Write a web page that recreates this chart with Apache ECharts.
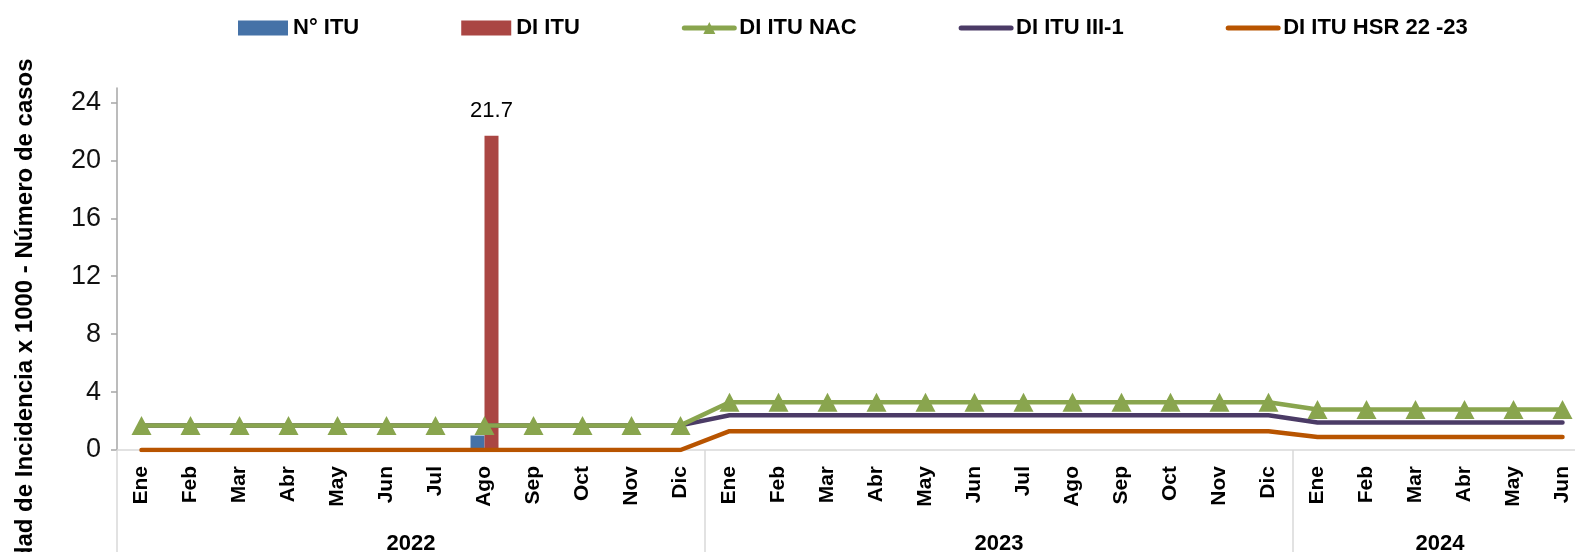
<!DOCTYPE html>
<html>
<head>
<meta charset="utf-8">
<script src="https://cdn.jsdelivr.net/npm/echarts@6/dist/echarts.min.js"></script>
<style>
  html, body { margin: 0; padding: 0; background: #fff; }
  #chart { width: 1575px; height: 552px; }
</style>
</head>
<body>
<div id="chart"></div>
<script>
// meses (categorias)
const months = [
  'Ene','Feb','Mar','Abr','May','Jun','Jul','Ago','Sep','Oct','Nov','Dic',
  'Ene','Feb','Mar','Abr','May','Jun','Jul','Ago','Sep','Oct','Nov','Dic',
  'Ene','Feb','Mar','Abr','May','Jun'
];
const years = ['2022', '2023', '2024'];
const yearMonths = [12, 12, 6];
const yTicks = [0, 4, 8, 12, 16, 20, 24];

// series
const nItu = [0,0,0,0,0,0,0,1,0,0,0,0, 0,0,0,0,0,0,0,0,0,0,0,0, 0,0,0,0,0,0];
const diItu = [0,0,0,0,0,0,0,21.7,0,0,0,0, 0,0,0,0,0,0,0,0,0,0,0,0, 0,0,0,0,0,0];
const diItuNac = [1.7,1.7,1.7,1.7,1.7,1.7,1.7,1.7,1.7,1.7,1.7,1.7,
                  3.3,3.3,3.3,3.3,3.3,3.3,3.3,3.3,3.3,3.3,3.3,3.3,
                  2.8,2.8,2.8,2.8,2.8,2.8];
const diItuIII1 = [1.7,1.7,1.7,1.7,1.7,1.7,1.7,1.7,1.7,1.7,1.7,1.7,
                   2.4,2.4,2.4,2.4,2.4,2.4,2.4,2.4,2.4,2.4,2.4,2.4,
                   1.9,1.9,1.9,1.9,1.9,1.9];
const diItuHsr = [0,0,0,0,0,0,0,0,0,0,0,0,
                  1.3,1.3,1.3,1.3,1.3,1.3,1.3,1.3,1.3,1.3,1.3,1.3,
                  0.9,0.9,0.9,0.9,0.9,0.9];

// eje de años: una posicion por borde de mes, etiqueta en el centro de cada año
const yearSlots = [];
const yearBounds = [0];
const yearCenters = {};
let pos = 0;
years.forEach((y, i) => {
  yearCenters[pos + yearMonths[i] / 2] = y;
  pos += yearMonths[i];
  yearBounds.push(pos);
});
for (let i = 0; i <= pos; i++) yearSlots.push(yearCenters[i] || '');

const FONT = 'Liberation Sans, Arial, sans-serif';
const chart = echarts.init(document.getElementById('chart'));

const lineSeries = (name, data, color, z, withSymbol) => ({
  name: name,
  type: 'line',
  data: data,
  z: z,
  symbol: withSymbol ? 'triangle' : 'none',
  symbolSize: [20, 19],
  showSymbol: withSymbol,
  itemStyle: { color: color },
  lineStyle: { color: color, width: 4.5, cap: 'round', join: 'round' }
});

chart.setOption({
  animation: false,
  textStyle: { fontFamily: FONT },
  legend: {
    top: 12,
    left: 233,
    itemGap: 102,
    itemWidth: 50,
    itemHeight: 15,
    textStyle: { fontSize: 22, fontWeight: 'bold', color: '#000', fontFamily: FONT },
    data: [
      { name: 'N° ITU', icon: 'rect' },
      { name: 'DI ITU', icon: 'rect' },
      { name: 'DI ITU NAC', lineStyle: { width: 5, cap: 'round' } },
      { name: 'DI ITU III-1', lineStyle: { width: 5, cap: 'round' }, itemStyle: { opacity: 0 } },
      { name: 'DI ITU HSR 22 -23', lineStyle: { width: 5, cap: 'round' }, itemStyle: { opacity: 0 } }
    ]
  },
  grid: { left: 117, top: 88, width: 1470, height: 362, outerBoundsMode: 'none', containLabel: false },
  xAxis: [
    {
      type: 'category',
      data: months,
      axisLine: { lineStyle: { color: '#d9d9d9', width: 1.5 } },
      axisTick: { show: false },
      axisLabel: {
        interval: 0, rotate: 90, margin: 16,
        fontSize: 21, fontWeight: 'bold', color: '#000', fontFamily: FONT
      }
    },
    {
      type: 'category',
      data: yearSlots,
      boundaryGap: false,
      position: 'bottom',
      offset: 0,
      axisLine: { show: false },
      axisTick: {
        show: true,
        interval: (i) => yearBounds.includes(i),
        length: 104,
        lineStyle: { color: '#d9d9d9', width: 1.5 }
      },
      axisLabel: {
        interval: (i, v) => v !== '',
        margin: 83,
        fontSize: 22, fontWeight: 'bold', color: '#000', fontFamily: FONT
      }
    }
  ],
  yAxis: {
    type: 'value',
    min: 0,
    max: 25,
    name: 'Densidad de Incidencia x 1000 - Número de casos',
    nameLocation: 'middle',
    nameGap: 80,
    nameTextStyle: {
      fontSize: 24, fontWeight: 'bold', color: '#000', fontFamily: FONT,
      padding: [0, 147, 0, 0]
    },
    axisLine: { show: true, lineStyle: { color: '#a6a6a6', width: 1.5 } },
    axisTick: { show: true, length: 6, customValues: yTicks, lineStyle: { color: '#a6a6a6', width: 1.5 } },
    axisLabel: { customValues: yTicks, margin: 16, fontSize: 27, color: '#111', fontFamily: FONT },
    splitLine: { show: false }
  },
  series: [
    {
      name: 'N° ITU',
      type: 'bar',
      data: nItu,
      barWidth: 14,
      barGap: '0%',
      itemStyle: { color: '#4572A7' }
    },
    {
      name: 'DI ITU',
      type: 'bar',
      data: diItu,
      barWidth: 14,
      barGap: '0%',
      itemStyle: { color: '#AA4643' },
      label: {
        show: true,
        position: 'top',
        distance: 14,
        fontSize: 22,
        color: '#000',
        fontFamily: FONT,
        formatter: p => (p.value ? p.value : '')
      }
    },
    lineSeries('DI ITU HSR 22 -23', diItuHsr, '#B85400', 3, false),
    lineSeries('DI ITU III-1', diItuIII1, '#4B3B66', 4, false),
    lineSeries('DI ITU NAC', diItuNac, '#89A54E', 5, true)
  ]
});
</script>
</body>
</html>
